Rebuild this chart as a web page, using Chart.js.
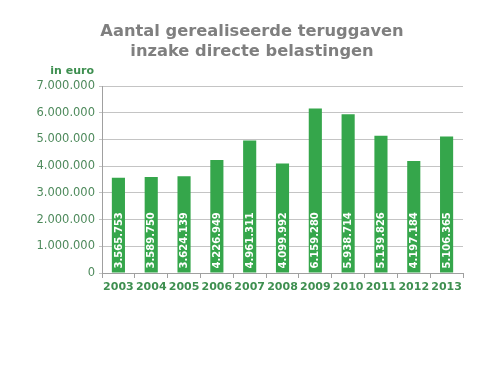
<!DOCTYPE html>
<html>
<head>
<meta charset="utf-8">
<script src="https://cdn.jsdelivr.net/npm/chart.js@4/dist/chart.umd.min.js"></script>
<style>
  html, body { margin: 0; padding: 0; background: #ffffff; }
  #wrap { width: 500px; height: 375px; }
</style>
</head>
<body>
<div id="wrap"><canvas id="chart" width="500" height="375"></canvas></div>
<script>
var years = ['2003', '2004', '2005', '2006', '2007', '2008', '2009', '2010', '2011', '2012', '2013'];
var refunds = [3565753, 3589750, 3624139, 4226949, 4961311, 4099992, 6159280, 5938714, 5139826, 4197184, 5106365];
var titleLines = ['Aantal gerealiseerde teruggaven', 'inzake directe belastingen'];
var unitLabel = 'in euro';

var green = '#35a64b';
var labelGreen = '#4e8a5c';

// dots as thousands separator
function dotted(n) {
    return String(n).replace(/\B(?=(\d{3})+(?!\d))/g, '.');
}

// white vertical value text inside each bar, starting at the bottom
var barText = {
    id: 'barText',
    afterDatasetsDraw: function(chart) {
        var ctx = chart.ctx;
        var meta = chart.getDatasetMeta(0);
        ctx.save();
        ctx.fillStyle = '#ffffff';
        ctx.font = 'bold 10px "DejaVu Sans"';
        ctx.textAlign = 'left';
        ctx.textBaseline = 'middle';
        meta.data.forEach(function(bar, i) {
            ctx.save();
            ctx.translate(bar.x + 0.5, bar.base - 4);
            ctx.rotate(-Math.PI / 2);
            ctx.fillText(dotted(refunds[i]), 0, 0);
            ctx.restore();
        });
        ctx.restore();
    }
};

// title over the whole canvas and "in euro" above the y axis labels
var headText = {
    id: 'headText',
    afterDraw: function(chart) {
        var ctx = chart.ctx;
        var area = chart.chartArea;
        ctx.save();
        ctx.fillStyle = '#7f7f7f';
        ctx.font = 'bold 16.3px "DejaVu Sans"';
        ctx.textAlign = 'center';
        ctx.textBaseline = 'middle';
        ctx.fillText(titleLines[0], 252, 32);
        ctx.fillText(titleLines[1], 252, 52);
        ctx.fillStyle = '#3e8f50';
        ctx.font = 'bold 11px "DejaVu Sans"';
        ctx.textAlign = 'right';
        ctx.fillText(unitLabel, area.left - 8, area.top - 15);
        ctx.restore();
    }
};

new Chart(document.getElementById('chart'), {
    type: 'bar',
    data: {
        labels: years,
        datasets: [{
            data: refunds,
            backgroundColor: green,
            borderWidth: 0,
            barPercentage: 0.8,
            categoryPercentage: 0.5
        }]
    },
    options: {
        responsive: false,
        animation: false,
        layout: { padding: { left: 0, right: 37, top: 86, bottom: 72 } },
        plugins: {
            legend: { display: false },
            tooltip: { enabled: false },
            title: { display: false }
        },
        scales: {
            x: {
                offset: true,
                afterFit: function(scale) { scale.height = 30; },
                grid: { display: true, offset: true, drawOnChartArea: false, drawTicks: true, tickLength: 5, color: '#a0a0a0' },
                border: { color: '#a0a0a0' },
                ticks: {
                    color: '#3e8f50',
                    font: { family: 'DejaVu Sans', size: 11, weight: 'bold' },
                    padding: 3,
                    maxRotation: 0,
                    autoSkip: false
                }
            },
            y: {
                min: 0,
                max: 7000000,
                afterFit: function(scale) { scale.width = 102; },
                grid: { color: '#c4c4c4', drawTicks: true, tickLength: 3 },
                border: { color: '#a0a0a0' },
                ticks: {
                    stepSize: 1000000,
                    color: labelGreen,
                    font: { family: 'DejaVu Sans', size: 11.5 },
                    padding: 4,
                    callback: function(v) { return dotted(v); }
                }
            }
        }
    },
    plugins: [barText, headText]
});
</script>
</body>
</html>
